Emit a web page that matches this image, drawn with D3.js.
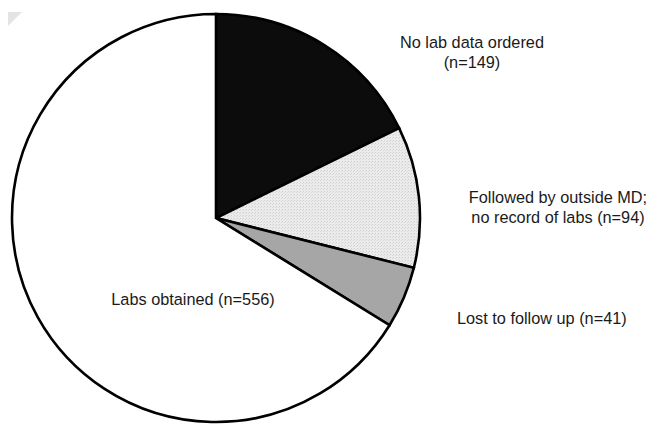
<!DOCTYPE html>
<html>
<head>
<meta charset="utf-8">
<script src="https://cdn.jsdelivr.net/npm/d3@7"></script>
<style>
  html, body { margin: 0; padding: 0; background: #fff; }
  svg { display: block; }
  text { font-family: "Liberation Sans", Arial, Helvetica, sans-serif; fill: #1a1a1a; }
</style>
</head>
<body>
<svg id="chart" width="650" height="424"></svg>
<script>
// Data
const categories = ["No lab data ordered", "Followed by outside MD; no record of labs", "Lost to follow up", "Labs obtained"];
const counts = [149, 94, 41, 556];
const labelLines = [
  ["No lab data ordered", "(n=149)"],
  ["Followed by outside MD;", "no record of labs (n=94)"],
  ["Lost to follow up (n=41)"],
  ["Labs obtained (n=556)"]
];
const fills = ["#0c0c0c", "url(#stipple)", "#a6a6a6", "#ffffff"];

const W = 650, H = 424;
const cx = 216, cy = 218, R = 204;

const svg = d3.select("#chart");

// stipple pattern for the light slice
const defs = svg.append("defs");
const pat = defs.append("pattern")
  .attr("id", "stipple").attr("patternUnits", "userSpaceOnUse")
  .attr("width", 3).attr("height", 3);
pat.append("rect").attr("width", 3).attr("height", 3).attr("fill", "#ebebeb");
pat.append("rect").attr("x", 0).attr("y", 0).attr("width", 1).attr("height", 1).attr("fill", "#cfcfcf");
pat.append("rect").attr("x", 2).attr("y", 1).attr("width", 1).attr("height", 1).attr("fill", "#d8d8d8");

// faint scan artifact top-left corner
svg.append("path")
  .attr("d", "M8,12 L22,12 L8,26 Z")
  .attr("fill", "#e4e4e4");

const pie = d3.pie().sort(null).value(d => d)
  .startAngle(0).endAngle(2 * Math.PI);
const arcs = pie(counts);
const arc = d3.arc().innerRadius(0).outerRadius(R);

const g = svg.append("g").attr("transform", `translate(${cx},${cy})`);
g.selectAll("path.slice")
  .data(arcs)
  .join("path")
  .attr("class", "slice")
  .attr("d", arc)
  .attr("fill", (d, i) => fills[i])
  .attr("stroke", "#000")
  .attr("stroke-width", 2.6)
  .attr("stroke-linejoin", "miter");

// labels
const labelPos = [
  { x: 472, y: 47.7, anchor: "middle" },
  { x: 558, y: 202.5, anchor: "middle" },
  { x: 457, y: 324, anchor: "start" },
  { x: 193, y: 305, anchor: "middle" }
];
const lineH = 20.5;
labelLines.forEach((lines, i) => {
  const p = labelPos[i];
  const t = svg.append("text")
    .attr("x", p.x).attr("y", p.y)
    .attr("text-anchor", p.anchor)
    .style("font-size", "16.3px");
  lines.forEach((ln, j) => {
    t.append("tspan").attr("x", p.x).attr("dy", j === 0 ? 0 : lineH).text(ln);
  });
});
</script>
</body>
</html>
